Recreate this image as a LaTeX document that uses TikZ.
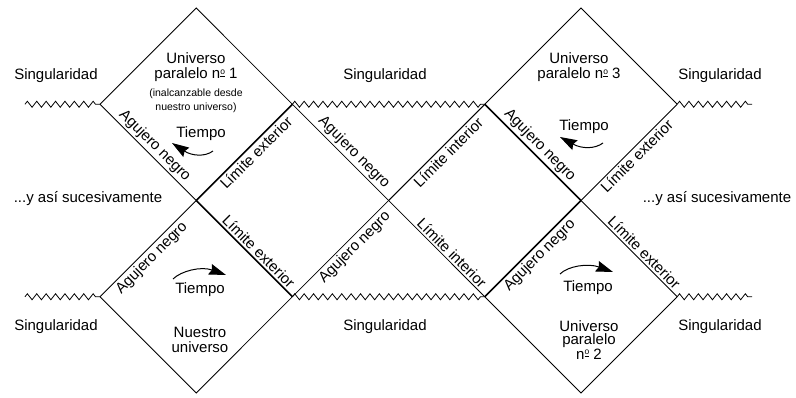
\documentclass[tikz,border=0pt]{standalone}
\usepackage{fontspec}
\setmainfont{Liberation Sans}
\usepackage{tikz}
\usetikzlibrary{decorations.pathmorphing,arrows.meta}
\newcommand{\nro}{n\raisebox{4.6pt}{\fontsize{8.5}{8.5}\selectfont\underline{o}}}

\begin{document}
\begin{tikzpicture}[x=1pt,y=-1pt,
	every node/.style={font=\fontsize{15}{15}\selectfont},
	borde/.style={line width=.8pt},
	horizonte/.style={line width=1.6pt},
	sing/.style={line width=.8pt,decorate,decoration={zigzag,segment length=9.4pt,amplitude=3pt}},
	etiq/.style={sloped,inner sep=2pt},
	titulo/.style={align=center,font=\fontsize{15}{15}\selectfont},
	nota/.style={align=center,font=\fontsize{10.5}{14}\selectfont},
	flecha/.style={line width=1pt,-{Stealth[length=17pt,width=11pt,inset=2pt]}}]
	\useasboundingbox(0,0)rectangle(796,397);
	% rejilla de vertices
	\foreach \i in {0,...,6}
		\foreach \j in {0,...,4}
			\coordinate(v\i\j)at(100+96.2*\i,8+96.25*\j);
	\coordinate(sa1)at(25,104.25);
	\coordinate(sb1)at(752,104.25);
	\coordinate(sa3)at(25,296.75);
	\coordinate(sb3)at(752,296.75);
	% singularidades
	\draw[sing](sa1)--(v01);
	\draw[sing](v21)--(v41);
	\draw[sing](v61)--(sb1);
	\draw[sing](sa3)--(v03);
	\draw[sing](v23)--(v43);
	\draw[sing](v63)--(sb3);
	% rombos exteriores
	\draw[borde](v01)--(v10)--(v21);
	\draw[borde](v03)--(v14)--(v23);
	\draw[borde](v41)--(v50)--(v61);
	\draw[borde](v43)--(v54)--(v63);
	% horizontes de arriba
	\draw[borde](v01)--node[etiq,above,pos=.5](ag1){Agujero negro}(v12);
	\draw[horizonte](v12)--node[etiq,below,pos=.56](le1){Límite exterior}(v21);
	\draw[borde](v21)--node[etiq,above,pos=.57](ag2){Agujero negro}(v32);
	\draw[line width=1.1pt](v32)--node[etiq,below,pos=.56](li1){Límite interior}(v41);
	\draw[horizonte](v41)--node[etiq,above,pos=.5](ag3){Agujero negro}(v52);
	\draw[borde](v52)--node[etiq,below,pos=.52](le2){Límite exterior}(v61);
	% horizontes de abajo
	\draw[borde](v03)--node[etiq,below,pos=.47](ag4){Agujero negro}(v12);
	\draw[horizonte](v12)--node[etiq,above,pos=.59](le3){Límite exterior}(v23);
	\draw[borde](v23)--node[etiq,below,pos=.58](ag5){Agujero negro}(v32);
	\draw[borde](v32)--node[etiq,above,pos=.6](li2){Límite interior}(v43);
	\draw[horizonte](v43)--node[etiq,below,pos=.5](ag6){Agujero negro}(v52);
	\draw[borde](v52)--node[etiq,above,pos=.6](le4){Límite exterior}(v63);
	% textos
	\node(sing1)at(56,75.5){Singularidad};
	\node(sing2)at(385,75.5){Singularidad};
	\node(sing3)at(720,75.5){Singularidad};
	\node(sing4)at(56,326.5){Singularidad};
	\node(sing5)at(385,326.5){Singularidad};
	\node(sing6)at(720,326.5){Singularidad};
	\node(suc1)at(88,199){...y así sucesivamente};
	\node(suc2)at(717,198.5){...y así sucesivamente};
	\node[titulo](uni1)at(196,67.5){Universo\\paralelo \nro\ 1};
	\node[nota](nota1)at(196,101){(inalcanzable desde\\nuestro universo)};
	\node[titulo](uni3)at(579,67.5){Universo\\paralelo \nro\ 3};
	\node[titulo](nuestro)at(200,340){Nuestro\\universo};
	\node[titulo,font=\fontsize{15}{13}\selectfont](uni2)at(589,340){Universo\\paralelo\\\nro\ 2};
	% tiempo
	\node(tiempo1)at(201,134){Tiempo};
	\node(tiempo3)at(584,127){Tiempo};
	\node(tiempo4)at(200,289.5){Tiempo};
	\node(tiempo2)at(588,288){Tiempo};
	\coordinate(f1a)at(213,151);\coordinate(f1b)at(172,143);
	\coordinate(f3a)at(603,143);\coordinate(f3b)at(560,137);
	\coordinate(f4a)at(173,279);\coordinate(f4b)at(226,275);
	\coordinate(f2a)at(560,274);\coordinate(f2b)at(613,272);
	\draw[flecha](f1a).. controls (205,157) and (192,156) ..(f1b);
	\draw[flecha](f3a).. controls (595,149) and (582,149) ..(f3b);
	\draw[flecha](f4a).. controls (181,271) and (201,266) ..(f4b);
	\draw[flecha](f2a).. controls (568,266) and (588,263) ..(f2b);
\end{tikzpicture}
\end{document}
